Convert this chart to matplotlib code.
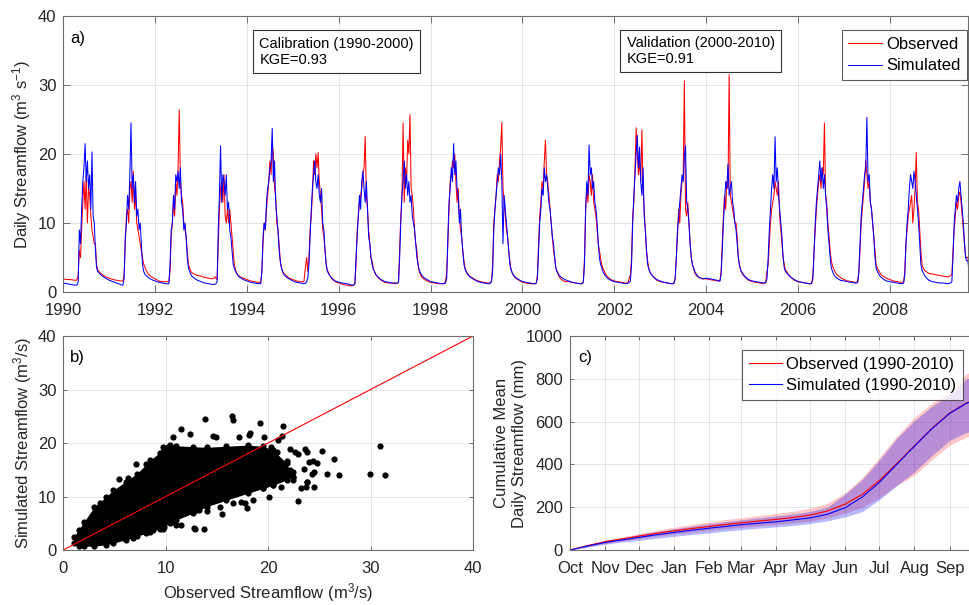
import numpy as np
import matplotlib
matplotlib.use("Agg")
from matplotlib import pyplot as plt

plt.rcParams['font.family'] = ['Liberation Sans', 'DejaVu Sans']
plt.rcParams['mathtext.default'] = 'regular'

# ---- panel a: daily streamflow, sampled at fixed points inside each year ----
years = np.arange(1990, 2010)
season_offsets = [0.00, 0.08, 0.16, 0.24, 0.28, 0.30, 0.325, 0.35, 0.375, 0.40,
                  0.425, 0.45, 0.475, 0.50, 0.525, 0.55, 0.575, 0.60, 0.625, 0.65,
                  0.675, 0.70, 0.725, 0.75, 0.775, 0.80, 0.85, 0.92]

obs_flow = [
    [1.9, 1.8, 1.8, 1.7, 1.7, 1.8, 2.5, 6, 5, 9, 13, 16, 12, 17, 10, 15, 14, 11, 9, 8, 7, 7, 4, 3.2, 3.0, 2.8, 2.5, 2.2],
    [2.0, 1.8, 1.7, 1.6, 1.6, 1.6, 2.5, 7, 11, 12, 10, 15, 16, 13, 17.5, 12, 14, 10, 9, 8, 7, 6, 5, 4, 3.7, 3.2, 2.6, 2.2],
    [1.9, 1.6, 1.5, 1.5, 1.5, 1.5, 3, 8, 10, 13, 11, 16, 14, 18, 26.4, 16, 14, 13, 10, 9, 8, 6, 4, 3.5, 3, 2.8, 2.6, 2.4],
    [2.3, 2.1, 2.0, 1.9, 2.0, 2.2, 2.0, 1.8, 7, 12, 15, 16, 13, 17, 11, 10, 12, 10, 12, 10, 8, 6, 4, 3.2, 2.8, 2.5, 2.2, 2.0],
    [1.8, 1.6, 1.5, 1.4, 1.4, 1.4, 3, 7, 10, 9, 12, 14, 16, 19, 17, 21.5, 20, 15, 14, 10, 9, 7, 4.5, 3.5, 3, 2.7, 2.4, 2.0],
    [1.8, 1.6, 1.5, 1.5, 4, 5, 3, 5, 9, 11, 14, 19, 17, 20, 18, 20.2, 16, 14, 12, 9, 8, 6, 4, 3.2, 2.8, 2.4, 1.9, 1.5],
    [1.3, 1.1, 1.0, 0.9, 0.9, 0.9, 1.0, 1.2, 4, 9, 11, 13, 14, 15, 17, 18, 22.5, 14, 12, 9, 7, 5, 4.5, 3.5, 3, 2.6, 2.1, 1.7],
    [1.4, 1.3, 1.3, 1.2, 1.3, 1.4, 6, 11, 14, 24.5, 13, 18, 16, 22, 20, 25.7, 15, 14, 12, 9, 7, 6, 4, 3, 2.6, 2.2, 1.9, 1.6],
    [1.4, 1.3, 1.2, 1.2, 1.2, 1.3, 1.5, 3, 7, 12, 16, 17, 19, 18, 20, 16, 13, 15, 11, 9, 8, 6, 4.5, 3.5, 3, 2.7, 2.3, 2.0],
    [1.7, 1.5, 1.4, 1.3, 1.3, 1.4, 1.6, 4, 10, 12, 14, 17, 16, 19, 21, 24.6, 15, 13, 11, 9, 8, 6, 4.5, 3.3, 2.8, 2.4, 2.0, 1.7],
    [1.4, 1.3, 1.2, 1.2, 1.2, 1.3, 2.5, 7, 11, 13, 16, 15, 19, 22, 17, 16, 14, 12, 10, 8, 6, 5, 3.5, 3, 2.6, 2.2, 1.8, 1.5],
    [1.5, 1.4, 1.3, 1.2, 1.2, 1.3, 1.5, 5, 12, 15, 13, 17, 16, 14, 17, 13, 12, 11, 9, 7, 6, 5, 4, 3.5, 3.1, 2.7, 2.2, 1.8],
    [1.6, 1.5, 1.4, 1.3, 1.3, 1.4, 2.0, 2.5, 5, 11, 13, 18, 23.8, 20, 17, 19, 16, 23.5, 15, 12, 9, 6, 4.5, 3.5, 2.9, 2.6, 2.2, 1.7],
    [1.5, 1.4, 1.3, 1.2, 1.2, 1.3, 2, 5, 8, 12, 10, 14, 16, 17, 30.6, 12, 11, 13, 10, 7, 5, 4, 3.5, 2.8, 2.5, 2.3, 2.1, 1.9],
    [1.9, 1.8, 1.7, 1.6, 1.6, 1.6, 3, 7, 11, 14, 12, 16, 15, 31.5, 14, 13, 12, 11, 10, 10, 8, 5, 4, 3.2, 2.8, 2.5, 2.1, 1.7],
    [1.5, 1.4, 1.3, 1.2, 1.3, 1.5, 3, 4, 7, 10, 12, 13, 14, 16, 15, 14, 16, 11, 9, 7, 5, 4, 3.2, 3, 2.7, 2.5, 2.1, 1.7],
    [1.5, 1.4, 1.3, 1.2, 1.2, 1.3, 2.5, 6, 9, 12, 14, 16, 17, 15, 18, 17, 24.5, 14, 13, 10, 8, 6, 4.5, 3.8, 3.4, 3, 2.5, 2.1],
    [1.8, 1.6, 1.5, 1.4, 1.4, 1.5, 3, 6, 10, 12, 14, 16, 19, 17, 15, 16, 13, 12, 10, 8, 6, 4, 3.5, 3.2, 2.9, 2.6, 2.3, 2.0],
    [1.8, 1.6, 1.5, 1.4, 1.4, 1.5, 3, 7, 9, 11, 12, 13, 14, 10, 12, 15, 20.2, 13, 12, 9, 6, 4, 3.5, 3.2, 3, 2.9, 2.7, 2.6],
    [2.5, 2.4, 2.3, 2.2, 2.2, 2.3, 2.4, 2.6, 6, 9, 11, 13, 12, 14, 14.5, 13, 11, 9, 7, 5, 5, 5, 3.5, 3, 2.7, 2.5, 2.2, 2.0],
]
sim_flow = [
    [1.3, 1.2, 1.1, 1.0, 1.0, 1.0, 1.5, 9, 7, 12, 16, 18, 21.5, 16, 19, 15, 17, 12, 20.3, 11, 10, 6, 3.5, 3.0, 2.8, 2.6, 2.3, 2.0],
    [1.7, 1.5, 1.3, 1.1, 1.0, 1.0, 2, 8, 10, 14, 12, 17, 24.5, 15, 17, 13, 16, 11, 12, 9, 10, 7, 4, 3, 2.6, 2.4, 2.1, 1.8],
    [1.6, 1.4, 1.3, 1.2, 1.2, 1.2, 4, 9, 10, 14, 12, 17, 16, 17.5, 15, 18, 13, 12, 9, 10, 8, 5, 3.5, 3.0, 2.6, 2.3, 2.0, 1.7],
    [1.5, 1.3, 1.2, 1.1, 1.1, 1.1, 1.2, 1.5, 9, 14, 21.2, 13, 17, 16, 14, 17, 12, 13, 9, 8, 6, 4, 3.5, 3.0, 2.7, 2.4, 2.1, 1.8],
    [1.6, 1.4, 1.3, 1.2, 1.2, 1.2, 3, 8, 10, 9, 13, 15, 16, 18, 19, 23.7, 16, 19, 13, 11, 9, 6, 4.5, 3.5, 3, 2.6, 2.2, 1.9],
    [1.6, 1.4, 1.3, 1.2, 1.3, 1.5, 2, 4, 8, 12, 15, 17, 19, 16, 15, 17, 14, 13, 15, 10, 9, 6, 4, 3.0, 2.7, 2.4, 2.0, 1.6],
    [1.4, 1.3, 1.2, 1.1, 1.0, 1.0, 1.0, 1.2, 5, 8, 11, 14, 12, 16, 17.5, 15, 13, 16, 12, 8, 7, 5, 4, 3.3, 3, 2.6, 2.2, 1.8],
    [1.5, 1.4, 1.3, 1.3, 1.3, 1.4, 5, 10, 14, 16, 19, 15, 17, 14, 16, 13, 14, 11, 10, 9, 7, 5, 4, 3.2, 2.8, 2.5, 2.1, 1.8],
    [1.5, 1.4, 1.3, 1.2, 1.2, 1.2, 1.3, 2, 8, 13, 15, 18, 16, 21.5, 17, 19, 15, 14, 10, 12, 8, 6, 4, 3.3, 2.9, 2.6, 2.2, 1.9],
    [1.6, 1.4, 1.3, 1.2, 1.2, 1.3, 1.5, 3, 9, 12, 14, 16, 18, 17, 20, 16, 7, 14, 12, 10, 8, 6, 4, 3.2, 2.8, 2.5, 2.1, 1.8],
    [1.5, 1.4, 1.3, 1.2, 1.2, 1.3, 2, 6, 10, 12, 15, 14, 18, 16, 17, 15, 13, 12, 10, 8, 7, 5, 3.5, 3, 2.7, 2.4, 2.1, 1.8],
    [1.6, 1.4, 1.3, 1.2, 1.2, 1.2, 1.4, 4, 12, 16, 14, 21.3, 17, 18, 15, 16, 13, 12, 10, 7, 5, 4, 3.5, 3, 2.7, 2.4, 2.0, 1.7],
    [1.5, 1.4, 1.3, 1.2, 1.2, 1.3, 1.4, 1.6, 4, 10, 14, 17, 20, 22.7, 18, 21, 16, 14, 18, 11, 9, 6, 4, 3.3, 2.9, 2.6, 2.2, 1.8],
    [1.6, 1.4, 1.3, 1.2, 1.2, 1.3, 2, 5, 9, 11, 13, 15, 17, 16, 19.6, 21.2, 13, 12, 10, 7, 5, 4, 3.5, 3, 2.7, 2.4, 2.1, 1.9],
    [2.0, 1.9, 1.8, 1.7, 1.6, 1.6, 2.5, 6, 10, 13, 16, 15, 18.5, 14, 15, 16, 13, 12, 10, 9, 7, 5, 3.8, 3.2, 2.9, 2.6, 2.2, 1.8],
    [1.6, 1.5, 1.4, 1.3, 1.3, 1.4, 2, 5, 9, 12, 15, 17, 15, 22.5, 16, 18, 14, 12, 10, 8, 5, 3.5, 3, 2.8, 2.6, 2.4, 2.1, 1.8],
    [1.5, 1.4, 1.3, 1.2, 1.2, 1.3, 2, 6, 10, 13, 15, 17, 19, 16, 18, 15, 17, 14, 12, 9, 7, 5, 3.5, 3, 2.6, 2.3, 2.0, 1.7],
    [1.6, 1.5, 1.4, 1.3, 1.3, 1.4, 3, 7, 11, 13, 15, 17, 18, 25.3, 16, 17, 13, 12, 10, 8, 5, 3.5, 3, 2.7, 2.4, 2.2, 1.9, 1.6],
    [1.5, 1.4, 1.3, 1.2, 1.2, 1.3, 2.5, 7, 10, 12, 15, 17, 16, 15, 17.5, 16, 14, 12, 10, 7, 4, 3.2, 2.8, 2.5, 2.2, 2.0, 1.7, 1.5],
    [1.4, 1.3, 1.3, 1.2, 1.2, 1.3, 1.3, 1.5, 5, 10, 12, 14, 13, 15, 16, 14, 12, 10, 7, 5, 4.5, 4.5, 3, 2.8, 2.5, 2.3, 2.0, 1.8],
]

# ---- panel b: dense core of the scatter (envelope) plus the loose points ----
core_obs = [1.0, 1.5, 2.0, 3.0, 4.2, 4.9, 6.1, 7.2, 8.1, 8.5, 9.4, 9.8, 10.4, 11.0, 12.7, 14.0, 15.9, 18.0, 19.5, 20.5, 21.8, 22.4]
core_lo = [1.4, 0.8, 0.7, 0.7, 1.0, 1.3, 1.9, 2.6, 3.1, 3.4, 4.0, 4.3, 5.0, 5.6, 6.9, 8.1, 9.3, 10.6, 11.5, 12.1, 13.1, 13.7]
core_hi = [2.4, 3.8, 5.2, 8.0, 10.0, 11.2, 12.8, 14.3, 16.0, 16.8, 18.2, 18.7, 19.6, 19.5, 19.3, 19.2, 19.4, 19.6, 19.4, 18.7, 16.2, 13.7]
pts_obs = [30.9, 29.9, 31.4, 26.9, 25.7, 26.4, 25.3, 24.4, 24.8, 24.3, 24.5, 23.7, 23.8, 22.9, 23.5, 23.6,
           22.9, 22.1, 21.5, 21.4, 19.2, 19.6, 17.2, 18.1, 16.6, 16.5, 14.6, 14.9, 13.8, 12.4, 11.5, 10.7,
           9.7, 20.1, 20.5, 21.3, 18.5, 17.9, 17.7, 15.5, 15.3, 13.7, 12.8, 13.3, 12.3, 11.5, 10.7, 9.7,
           8.8, 8.1, 6.8, 22.1, 22.4, 21.8, 20.9, 20.3, 20.6, 7.1, 5.4, 4.2, 3.6, 18.2, 21.0, 10.2,
           9.6, 6.3, 24.0, 23.8, 22.6, 23.2, 22.4, 21.1, 19.5, 17.4, 16.6, 14.0, 13.0, 11.0, 12.9, 23.8, 24.5]
pts_sim = [19.5, 14.3, 14.0, 14.1, 14.3, 17.1, 18.6, 16.7, 16.3, 14.3, 11.8, 11.7, 12.7, 9.2, 15.2, 18.9,
           18.0, 18.9, 23.1, 21.4, 23.8, 21.1, 21.2, 21.5, 24.3, 25.1, 21.4, 21.2, 24.5, 21.6, 22.6, 21.1,
           19.2, 9.9, 12.1, 11.7, 9.3, 7.9, 8.7, 6.8, 8.1, 4.0, 4.1, 7.4, 7.9, 4.6, 5.3, 4.0,
           3.7, 4.3, 2.2, 14.9, 13.0, 16.7, 18.3, 19.2, 15.5, 16.1, 13.3, 8.7, 8.7, 21.8, 20.5, 19.2,
           17.9, 13.4, 16.5, 18.4, 18.4, 11.6, 14.6, 14.0, 11.5, 9.0, 8.7, 7.2, 7.5, 4.7, 4.0, 12.8, 14.6]

# ---- panel c: cumulative mean daily streamflow over the water year ----
wy_days = [0, 15, 31, 46, 61, 76, 92, 107, 123, 137, 151, 166, 182, 197, 212, 227, 243, 258, 273, 288, 304, 319, 335, 350, 365]
obs_cum = [0, 20, 39, 52, 65, 78, 90, 100, 110, 119, 127, 135, 143, 152, 163, 182, 215, 260, 325, 402, 487, 567, 640, 688, 712]
sim_cum = [0, 18, 35, 47, 59, 71, 82, 92, 102, 110, 118, 125, 132, 141, 150, 167, 198, 248, 316, 398, 485, 565, 638, 686, 710]
obs_hi = [0, 24, 46, 61, 77, 92, 106, 119, 132, 142, 151, 161, 171, 181, 195, 218, 268, 340, 432, 530, 620, 685, 740, 825, 850]
obs_lo = [0, 15, 31, 42, 53, 64, 75, 83, 92, 99, 106, 113, 120, 127, 135, 150, 172, 200, 245, 300, 350, 420, 490, 528, 540]
sim_hi = [0, 22, 43, 57, 72, 86, 99, 111, 123, 132, 141, 150, 159, 168, 180, 200, 262, 330, 420, 520, 605, 670, 725, 800, 820]
sim_lo = [0, 13, 27, 37, 45, 55, 64, 72, 80, 88, 95, 102, 108, 115, 124, 136, 155, 180, 235, 300, 365, 440, 512, 550, 560]
month_days = [0, 31, 61, 92, 123, 151, 182, 212, 243, 273, 304, 335]
month_names = ['Oct', 'Nov', 'Dec', 'Jan', 'Feb', 'Mar', 'Apr', 'May', 'Jun', 'Jul', 'Aug', 'Sep']

axis_col = '#262626'
grid_kw = dict(color='#262626', alpha=0.13, linewidth=0.6)


def matlab_style(ax, ticklen):
    for sp in ax.spines.values():
        sp.set_color('#6e6e6e')
        sp.set_linewidth(0.8)
    ax.tick_params(direction='in', top=True, right=True, length=ticklen,
                   width=0.7, color='#6e6e6e', labelsize=12, labelcolor=axis_col)
    ax.tick_params(axis='x', pad=8)
    ax.tick_params(axis='y', pad=5)
    ax.grid(True, **grid_kw)
    ax.set_axisbelow(True)


def boxed_legend(ax, anchor):
    leg = ax.legend(loc='upper right', bbox_to_anchor=anchor, fontsize=12,
                    frameon=True, fancybox=False, handlelength=2.0, handletextpad=0.25,
                    labelspacing=0.4, borderpad=0.4, borderaxespad=0)
    leg.get_frame().set_edgecolor('#333333')
    leg.get_frame().set_linewidth(0.8)
    return leg


fig = plt.figure(figsize=(9.69, 6.05), dpi=100)

# a) time series
ax1 = fig.add_axes([0.0653, 0.5174, 0.9336, 0.4562])
t = np.add.outer(years, season_offsets).ravel()
ax1.plot(t, np.ravel(obs_flow), color='red', lw=0.75, label='Observed')
ax1.plot(t, np.ravel(sim_flow), color='blue', lw=0.75, label='Simulated')
ax1.set_xlim(1990, 2009.7)
ax1.set_ylim(0, 40)
ax1.set_xticks(np.arange(1990, 2009, 2))
ax1.set_yticks([0, 10, 20, 30, 40])
matlab_style(ax1, 5)
ax1.set_ylabel('Daily Streamflow (m$^{3}$ s$^{-1}$)', fontsize=12, color=axis_col)
ax1.yaxis.set_label_coords(-0.034, 0.5)
ax1.text(0.008, 0.917, 'a)', transform=ax1.transAxes, fontsize=12, va='center')
box_kw = dict(boxstyle='square,pad=0.45', facecolor='white', edgecolor='#333333', linewidth=0.8)
ax1.text(0.2168, 0.87, 'Calibration (1990-2000)\nKGE=0.93', transform=ax1.transAxes,
         fontsize=10.5, va='center', ha='left', linespacing=1.15, bbox=box_kw)
ax1.text(0.6226, 0.873, 'Validation (2000-2010)\nKGE=0.91', transform=ax1.transAxes,
         fontsize=10.5, va='center', ha='left', linespacing=1.15, bbox=box_kw)
boxed_legend(ax1, (0.9989, 0.949))

# b) scatter
ax2 = fig.add_axes([0.0653, 0.0909, 0.4228, 0.3537])
ax2.fill_between(core_obs, core_lo, core_hi, color='black', linewidth=0)
ax2.scatter(core_obs, core_lo, s=20, color='black', linewidths=0)
ax2.scatter(core_obs, core_hi, s=20, color='black', linewidths=0)
ax2.scatter(pts_obs, pts_sim, s=20, color='black', linewidths=0)
ax2.plot([0, 40], [0, 40], color='red', lw=0.8)
ax2.set_xlim(0, 40)
ax2.set_ylim(0, 40)
ax2.set_xticks([0, 10, 20, 30, 40])
ax2.set_yticks([0, 10, 20, 30, 40])
matlab_style(ax2, 3)
ax2.set_xlabel('Observed Streamflow (m$^{3}$/s)', fontsize=12, color=axis_col)
ax2.xaxis.set_label_coords(0.5, -0.145)
ax2.set_ylabel('Simulated Streamflow (m$^{3}$/s)', fontsize=12, color=axis_col)
ax2.yaxis.set_label_coords(-0.072, 0.5)
ax2.text(0.017, 0.9, 'b)', transform=ax2.transAxes, fontsize=12, va='center')

# c) cumulative
ax3 = fig.add_axes([0.5882, 0.0909, 0.4269, 0.3537])
ax3.fill_between(wy_days, obs_lo, obs_hi, color='red', alpha=0.22, linewidth=0)
ax3.fill_between(wy_days, sim_lo, sim_hi, color='blue', alpha=0.28, linewidth=0)
ax3.plot(wy_days, obs_cum, color='red', lw=0.8, label='Observed (1990-2010)')
ax3.plot(wy_days, sim_cum, color='blue', lw=0.8, label='Simulated (1990-2010)')
ax3.set_xlim(0, 365)
ax3.set_ylim(0, 1000)
ax3.set_xticks(month_days)
ax3.set_xticklabels(month_names)
ax3.set_yticks(np.arange(0, 1001, 200))
matlab_style(ax3, 3)
ax3.set_ylabel('Cumulative Mean\nDaily Streamflow (mm)', fontsize=12, color=axis_col,
               linespacing=1.25)
ax3.yaxis.set_label_coords(-0.104, 0.5)
ax3.text(0.02, 0.9, 'c)', transform=ax3.transAxes, fontsize=12, va='center')
boxed_legend(ax3, (0.95, 0.935))

fig.savefig('out.png', dpi=100)
